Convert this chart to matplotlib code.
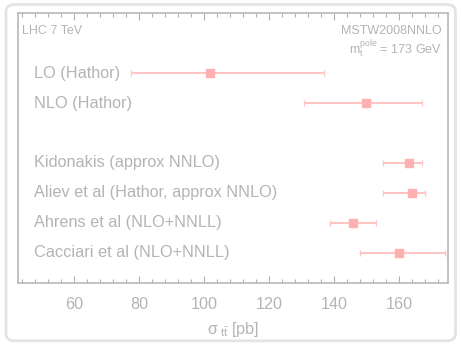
import matplotlib
matplotlib.use("Agg")
import matplotlib.pyplot as plt
from matplotlib.patches import FancyBboxPatch
from matplotlib.ticker import MultipleLocator

plt.rcParams['font.family'] = ['Liberation Sans', 'DejaVu Sans']
plt.rcParams['mathtext.fontset'] = 'custom'
plt.rcParams['mathtext.rm'] = 'Liberation Sans'
plt.rcParams['mathtext.it'] = 'Liberation Sans'
plt.rcParams['mathtext.sf'] = 'Liberation Sans'

# Top-quark pair cross sections at the LHC, 7 TeV
labels = ["LO (Hathor)", "NLO (Hathor)", "",
          "Kidonakis (approx NNLO)", "Aliev et al (Hathor, approx NNLO)",
          "Ahrens et al (NLO+NNLL)", "Cacciari et al (NLO+NNLL)"]
central = [101.8, 149.8, None, 163.1, 164.0, 145.7, 160.0]
low = [77.7, 130.9, None, 155.0, 155.0, 138.9, 147.9]
high = [136.9, 167.1, None, 167.1, 168.1, 153.0, 174.1]

text_grey = '#b4b4b4'
err_col = '#ffc4c4'
mark_col = '#ffb0b0'

fig = plt.figure(figsize=(4.61, 3.45), dpi=100)
fig.patch.set_facecolor('white')
frame = FancyBboxPatch((0.013, 0.012), 0.975, 0.975,
                       boxstyle="round,pad=0,rounding_size=0.02",
                       transform=fig.transFigure, facecolor='none',
                       edgecolor='#e4e4e4', linewidth=2.0, zorder=0)
fig.patches.append(frame)

ax = fig.add_axes([0.039, 0.180, 0.933, 0.782])
ax.set_facecolor('none')

n = len(labels)
for i, (lab, c, lo, hi) in enumerate(zip(labels, central, low, high)):
    y = n - i
    if lab:
        ax.text(47.7, y, lab, fontsize=11.7, color=text_grey,
                va='center', ha='left')
    if c is not None:
        ax.errorbar([c], [y], xerr=[[c - lo], [hi - c]], fmt='s',
                    color=err_col, mfc=mark_col, mec=mark_col, ms=6,
                    elinewidth=1.4, capsize=2.5, capthick=1.0)

ax.set_xlim(42.8, 175.1)
ax.set_ylim(0, 9)
ax.set_yticks([])
ax.xaxis.set_major_locator(MultipleLocator(20))
ax.xaxis.set_minor_locator(MultipleLocator(4))
ax.tick_params(axis='x', which='both', direction='in', top=True,
               bottom=True, colors='#b0b0b0', labelcolor=text_grey,
               labelsize=11.6, pad=10)
ax.tick_params(axis='x', which='major', length=5, width=0.8)
ax.tick_params(axis='x', which='minor', length=3, width=0.8)
for s in ax.spines.values():
    s.set_color('#b8b8b8')
    s.set_linewidth(1.2)

ax.set_xlabel(r'$\sigma_{\ t\bar{t}}$ [pb]', fontsize=11.6, color=text_grey,
              labelpad=6)

ax.text(0.01, 0.935, 'LHC 7 TeV', transform=ax.transAxes, fontsize=9,
        color=text_grey, ha='left', va='center')
ax.text(0.985, 0.935, 'MSTW2008NNLO', transform=ax.transAxes, fontsize=9,
        color=text_grey, ha='right', va='center')
ax.text(0.985, 0.868, r'$\mathregular{m_t^{pole}}$ = 173 GeV',
        transform=ax.transAxes, fontsize=9, color=text_grey,
        ha='right', va='center')

fig.savefig('out.png', dpi=100, facecolor='white')
